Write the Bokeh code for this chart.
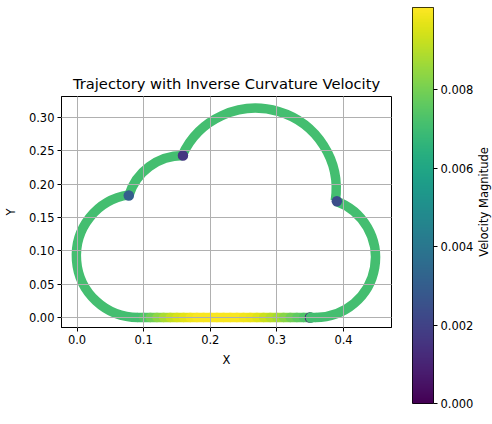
import numpy as np
from bokeh.plotting import figure
from bokeh.layouts import row
from bokeh.models import (Range1d, FixedTicker, PrintfTickFormatter, LinearColorMapper,
                          ColumnDataSource)
from bokeh.core.properties import value
from bokeh.palettes import Viridis256
from bokeh.transform import linear_cmap
from bokeh.embed import file_html
from bokeh.resources import INLINE

FONT = "DejaVu Sans"

# colour scale of the speed
speed_min = 0.0
speed_max = 0.0101

# circular arcs of the cloud outline (centre, radius, sweep in degrees, speed)
arc_cx = [0.358, 0.268, 0.159, 0.0915]
arc_cy = [0.090, 0.193, 0.158, 0.0925]
arc_r = [0.090, 0.121, 0.085, 0.0925]
arc_start_deg = [-90.0, -8.5, 90.0, 98.7]
arc_end_deg = [70.5, 155.5, 163.0, 270.0]
arc_speed = [0.0071, 0.0071, 0.0071, 0.0071]

# straight bottom edge, split where the speed changes
base_x = [0.0915, 0.10, 0.11, 0.12, 0.13, 0.14, 0.15, 0.16, 0.17, 0.18, 0.19, 0.20,
          0.21, 0.22, 0.23, 0.24, 0.25, 0.26, 0.27, 0.28, 0.29, 0.30, 0.31, 0.32,
          0.33, 0.34, 0.35, 0.358]
base_speed = [0.0071, 0.0074, 0.0079, 0.0084, 0.0088, 0.0092, 0.0095, 0.0097, 0.0099,
              0.0100, 0.0100, 0.0100, 0.0100, 0.0100, 0.0100, 0.0100,
              0.0099, 0.0098, 0.0096, 0.0093, 0.0090, 0.0087, 0.0083, 0.0079,
              0.0076, 0.0073, 0.0071]

# slow samples at the corners, drawn on top in path order
marker_x = [0.390, 0.159, 0.0777, 0.3495, 0.351]
marker_y = [0.1745, 0.243, 0.183, 0.0, 0.0]
marker_speed = [0.0024, 0.0016, 0.0030, 0.0012, 0.0071]

x_ticks = [0.0, 0.1, 0.2, 0.3, 0.4]
y_ticks = [0.00, 0.05, 0.10, 0.15, 0.20, 0.25, 0.30]
cbar_ticks = [0.000, 0.002, 0.004, 0.006, 0.008]
cbar_label = "Velocity Magnitude"

STROKE = 9.5

p = figure(width=400, height=424, output_backend="svg", toolbar_location=None,
           x_range=Range1d(-0.0233, 0.472), y_range=Range1d(-0.015, 0.3315),
           min_border_left=61, min_border_right=9, min_border_top=96, min_border_bottom=97,
           title="Trajectory with Inverse Curvature Velocity")
p.frame_align = False
p.background_fill_color = "white"
p.border_fill_color = "white"
p.outline_line_color = "black"
p.outline_line_width = 1

p.title.text_font = FONT
p.title.text_font_size = "14.7px"
p.title.text_font_style = "normal"
p.title.align = "center"
p.title.text_color = "black"

arcs = ColumnDataSource(dict(
    x=arc_cx, y=arc_cy, r=arc_r,
    a0=np.radians(arc_start_deg), a1=np.radians(arc_end_deg), v=arc_speed))
cmap = linear_cmap("v", Viridis256, speed_min, speed_max)
p.arc(x="x", y="y", radius="r", start_angle="a0", end_angle="a1", direction="anticlock",
      line_width=STROKE, line_color=cmap, source=arcs)

# round caps let each piece overlap the one before it, so no seams show
base = ColumnDataSource(dict(x0=base_x[:-1], x1=base_x[1:], y0=[0.0] * len(base_speed),
                             y1=[0.0] * len(base_speed), v=base_speed))
p.segment(x0="x0", y0="y0", x1="x1", y1="y1", line_width=STROKE, line_color=cmap,
          line_cap="round", source=base)

marks = ColumnDataSource(dict(x=marker_x, y=marker_y, v=marker_speed))
p.scatter(x="x", y="y", size=10.5, marker="circle", fill_color=cmap, line_color=None,
          source=marks)

for ax in (p.xaxis, p.yaxis):
    ax.axis_line_color = "black"
    ax.major_tick_line_color = "black"
    ax.major_tick_out = 4
    ax.major_tick_in = 0
    ax.minor_tick_line_color = None
    ax.major_label_text_font = FONT
    ax.major_label_text_font_size = "11.5px"
    ax.major_label_text_color = "black"
    ax.axis_label_text_font = FONT
    ax.axis_label_text_font_size = "11.5px"
    ax.axis_label_text_font_style = "normal"
    ax.axis_label_text_color = "black"
    ax.major_label_standoff = 3

p.xaxis.ticker = FixedTicker(ticks=x_ticks)
p.yaxis.ticker = FixedTicker(ticks=y_ticks)
p.xaxis.formatter = PrintfTickFormatter(format="%.1f")
p.yaxis.formatter = PrintfTickFormatter(format="%.2f")
p.xaxis.axis_label = "X"
p.yaxis.axis_label = "Y"
p.xaxis.axis_label_standoff = 6
p.yaxis.axis_label_standoff = 8

for g in (p.xgrid, p.ygrid):
    g.grid_line_color = "#b0b0b0"
    g.grid_line_width = 1
    g.level = "overlay"
p.xgrid.ticker = FixedTicker(ticks=x_ticks)
p.ygrid.ticker = FixedTicker(ticks=y_ticks)

# colour bar drawn as its own narrow plot
cb = figure(width=77, height=424, output_backend="svg", toolbar_location=None,
            x_range=Range1d(0, 1), y_range=Range1d(speed_min, speed_max),
            y_axis_location="right",
            min_border_left=12, min_border_right=44, min_border_top=7, min_border_bottom=21)
cb.frame_align = False
cb.background_fill_color = "white"
cb.border_fill_color = "white"
cb.outline_line_color = "black"
cb.outline_line_width = 1
cb.xaxis.visible = False
cb.grid.visible = False
mapper = LinearColorMapper(palette=Viridis256, low=speed_min, high=speed_max)
grad = np.linspace(speed_min, speed_max, 256).reshape(256, 1)
cb.image(image=[grad], x=0, y=speed_min, dw=1, dh=speed_max - speed_min, color_mapper=mapper)
ya = cb.yaxis
ya.ticker = FixedTicker(ticks=cbar_ticks)
ya.formatter = PrintfTickFormatter(format="%.3f")
ya.axis_line_color = None
ya.major_tick_line_color = "black"
ya.major_tick_out = 4
ya.major_tick_in = 0
ya.minor_tick_line_color = None
ya.major_label_text_font = FONT
ya.major_label_text_font_size = "11.5px"
ya.major_label_text_color = "black"
ya.major_label_standoff = 3

# strip holding the colour bar's caption, read bottom to top
lab = figure(width=15, height=424, output_backend="svg", toolbar_location=None,
             x_range=Range1d(0, 1), y_range=Range1d(0, 1),
             min_border_left=0, min_border_right=0, min_border_top=0, min_border_bottom=0)
lab.frame_align = False
lab.axis.visible = False
lab.grid.visible = False
lab.outline_line_color = None
lab.background_fill_color = "white"
lab.border_fill_color = "white"
lab.text(x=[0.45], y=[0.525], text=[cbar_label], angle=np.pi / 2, text_align="center",
         text_baseline="middle", text_font=value(FONT), text_font_size="11.5px",
         text_color="black")

layout = row(p, cb, lab)
open("out.html", "w").write(file_html(layout, INLINE))
